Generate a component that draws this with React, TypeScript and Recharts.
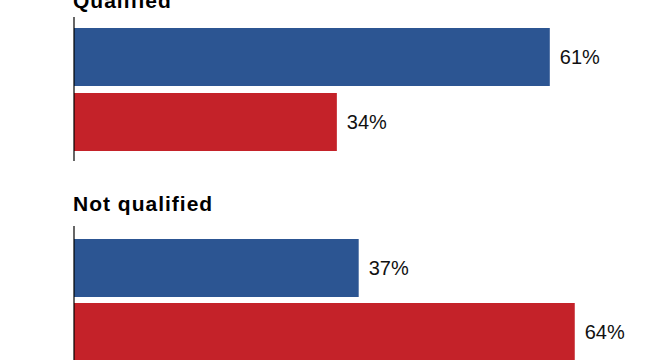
import React from 'react';
import { BarChart, Bar, XAxis, YAxis, LabelList } from 'recharts';

const groups = ['Qualified', 'Not qualified'];
const blueValues = [61, 36.5];
const redValues = [33.7, 64.2];

const BLUE = '#2c5592';
const RED = '#c42229';
const FONT = '"Liberation Sans", Arial, sans-serif';

const fmt = (v: any) => `${Math.round(Number(v))}%`;

type GroupProps = {
  index: number;
  top: number;
  height: number;
  marginTop: number;
  marginBottom: number;
  barGap: number;
};

function GroupChart({ index, top, height, marginTop, marginBottom, barGap }: GroupProps) {
  const data = [{ name: groups[index], blue: blueValues[index], red: redValues[index] }];
  return (
    <div style={{ position: 'absolute', left: 0, top, width: 660, height }}>
      <BarChart
        width={660}
        height={height}
        data={data}
        layout="vertical"
        margin={{ top: marginTop, right: 40, bottom: marginBottom, left: 14 }}
        barGap={barGap}
        barCategoryGap={0}
      >
        <XAxis type="number" domain={[0, 70]} hide />
        <YAxis
          type="category"
          dataKey="name"
          width={60}
          tick={false}
          tickLine={false}
          axisLine={{ stroke: '#000', strokeWidth: 1.2 }}
        />
        <Bar dataKey="blue" fill={BLUE} barSize={58} isAnimationActive={false}>
          <LabelList
            dataKey="blue"
            position="right"
            offset={10}
            formatter={fmt}
            style={{ fill: '#111', fontSize: 20, fontFamily: FONT }}
          />
        </Bar>
        <Bar dataKey="red" fill={RED} barSize={58} isAnimationActive={false}>
          <LabelList
            dataKey="red"
            position="right"
            offset={10}
            formatter={fmt}
            style={{ fill: '#111', fontSize: 20, fontFamily: FONT }}
          />
        </Bar>
      </BarChart>
    </div>
  );
}

export default function App() {
  return (
    <div
      style={{
        position: 'fixed',
        left: 0,
        top: 0,
        width: 660,
        height: 360,
        overflow: 'hidden',
        background: '#fff',
        fontFamily: FONT,
      }}
    >
      <GroupChart index={0} top={0} height={180} marginTop={17} marginBottom={19} barGap={7} />
      <GroupChart index={1} top={180} height={200} marginTop={46} marginBottom={6} barGap={6} />
      <svg
        width={660}
        height={360}
        style={{ position: 'absolute', left: 0, top: 0, pointerEvents: 'none' }}
      >
        <text x={73} y={8} fontFamily={FONT} fontWeight={700} fontSize={21} letterSpacing={1} fill="#000">
          {groups[0]}
        </text>
        <text x={73} y={211} fontFamily={FONT} fontWeight={700} fontSize={21} letterSpacing={1} fill="#000">
          {groups[1]}
        </text>
      </svg>
    </div>
  );
}
